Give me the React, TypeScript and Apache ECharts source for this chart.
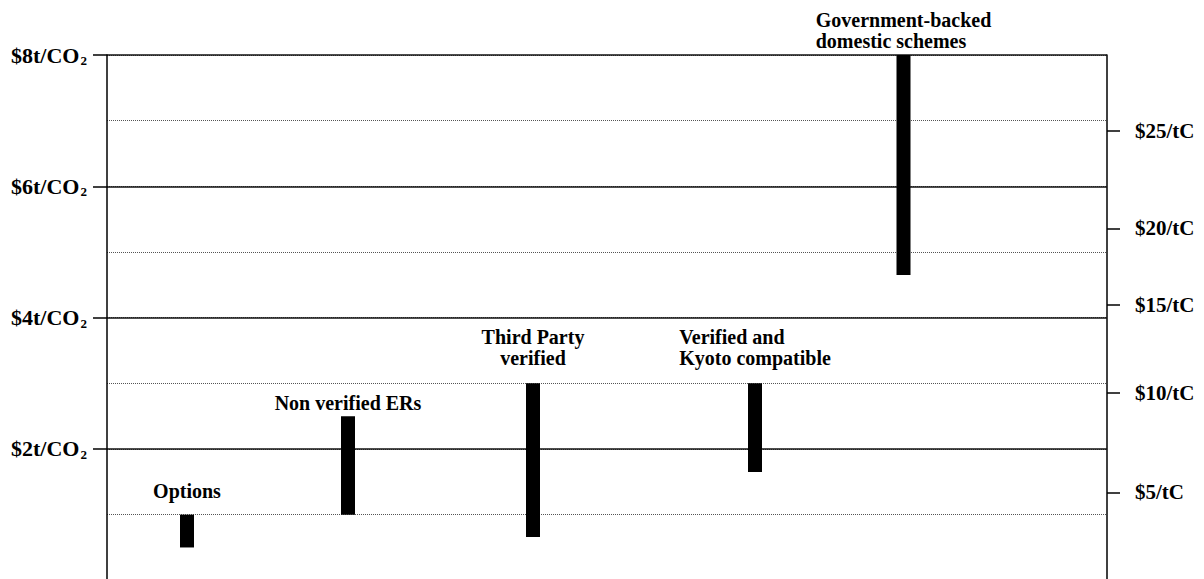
import React, { useEffect, useRef } from "react";
import * as echarts from "echarts";

// ---- data ----
const categories = [
  "Options",
  "Non verified ERs",
  "Third Party\nverified",
  "Verified and\nKyoto compatible",
  "Government-backed\ndomestic schemes",
];
// price range in $/tCO2
const lowValues = [0.5, 1.0, 0.66, 1.65, 4.65];
const highValues = [1.0, 2.5, 3.0, 3.0, 8.0];
// horizontal placement of each range (0-100 scale)
const xPositions = [8.0, 24.1, 42.6, 64.8, 79.65];

// right axis ($/tC) tick labels and where they sit on the $/tCO2 scale
const rightTickLabels = ["$5/tC", "$10/tC", "$15/tC", "$20/tC", "$25/tC"];
const rightTickValues = [1.34, 2.85, 4.2, 5.36, 6.84];

// ---- layout constants ----
const labelAlign = ["center", "center", "center", "left", "left"];
const labelGap = [24, 13, 25, 25, 14]; // bar top to centre of last label line
const LABEL_FONT_SIZE = 20;
const LABEL_LINE_HEIGHT = 21;
const FONT = '"Liberation Serif", "Times New Roman", serif';

function measureWidest(text: string): number {
  const c = document.createElement("canvas");
  const ctx = c.getContext("2d");
  if (!ctx) return 0;
  ctx.font = `bold ${LABEL_FONT_SIZE}px ${FONT}`;
  return Math.max(...text.split("\n").map((l) => ctx.measureText(l).width));
}

export default function App() {
  const ref = useRef<HTMLDivElement>(null);

  useEffect(() => {
    if (!ref.current) return;
    const chart = echarts.init(ref.current, undefined, { renderer: "svg" });

    const data = categories.map((name, i) => ({
      name,
      value: [xPositions[i], lowValues[i], highValues[i], i],
    }));

    const option: any = {
      animation: false,
      backgroundColor: "#fff",
      grid: { left: 107, right: 97, top: 55, bottom: 19.7, containLabel: false },
      xAxis: {
        type: "value",
        min: 0,
        max: 100,
        show: false,
      },
      yAxis: [
        {
          type: "value",
          position: "left",
          min: 0,
          max: 8,
          interval: 2,
          axisLine: { show: true, lineStyle: { color: "#000", width: 1.5 } },
          axisTick: {
            show: true,
            length: 14,
            lineStyle: { color: "#000", width: 1.5 },
          },
          splitLine: { show: true, lineStyle: { color: "#111", width: 1.5, type: "solid" } },
          axisLabel: {
            margin: 20,
            formatter: (v: number) => (v === 0 ? "" : `{m|$${v}t/CO}{s|2}`),
            rich: {
              m: {
                fontFamily: FONT,
                fontWeight: "bold",
                fontSize: 22,
                lineHeight: 24,
                color: "#000",
              },
              s: {
                fontFamily: FONT,
                fontWeight: "bold",
                fontSize: 13,
                lineHeight: 13,
                color: "#000",
                verticalAlign: "bottom",
                padding: [0, 0, 0, 1],
              },
            },
          },
          z: 3,
        },
        {
          type: "value",
          position: "right",
          min: 0,
          max: 8,
          axisLine: { show: true, lineStyle: { color: "#000", width: 1.5 } },
          axisTick: {
            show: true,
            length: 13,
            customValues: rightTickValues,
            lineStyle: { color: "#000", width: 1.5 },
          },
          splitLine: { show: false },
          axisLabel: {
            margin: 28,
            customValues: rightTickValues,
            fontFamily: FONT,
            fontWeight: "bold",
            fontSize: 21,
            color: "#000",
            formatter: (v: number) => {
              let best = 0;
              rightTickValues.forEach((t, i) => {
                if (Math.abs(t - v) < Math.abs(rightTickValues[best] - v)) best = i;
              });
              return rightTickLabels[best];
            },
          },
        },
        {
          type: "value",
          position: "left",
          min: 0,
          max: 8,
          interval: 1,
          axisLine: { show: false },
          axisTick: { show: false },
          axisLabel: { show: false },
          splitLine: {
            show: true,
            lineStyle: { color: "#555", width: 1, type: "dotted" },
          },
          z: 1,
        },
      ],
      series: [
        {
          type: "custom",
          xAxisIndex: 0,
          yAxisIndex: 0,
          clip: false,
          z: 10,
          data,
          renderItem: (params: any, api: any) => {
            const x = api.value(0);
            const lo = api.value(1);
            const hi = api.value(2);
            const idx = params.dataIndex;
            const top = api.coord([x, hi]);
            const bot = api.coord([x, lo]);
            const w = 14;
            const text = categories[idx];
            const align = labelAlign[idx];
            let tx = top[0];
            if (align === "left") tx = top[0] - measureWidest(text) / 2;
            const ty = top[1] - labelGap[idx] + LABEL_LINE_HEIGHT / 2;
            return {
              type: "group",
              children: [
                {
                  type: "rect",
                  shape: { x: top[0] - w / 2, y: top[1], width: w, height: bot[1] - top[1] },
                  style: { fill: "#000" },
                },
                {
                  type: "text",
                  x: tx,
                  y: ty,
                  style: {
                    text,
                    fill: "#000",
                    fontFamily: FONT,
                    fontWeight: "bold",
                    fontSize: LABEL_FONT_SIZE,
                    lineHeight: LABEL_LINE_HEIGHT,
                    align,
                    verticalAlign: "bottom",
                  },
                },
              ],
            };
          },
        },
      ],
    };

    chart.setOption(option);
    return () => chart.dispose();
  }, []);

  return (
    <div
      ref={ref}
      style={{ position: "fixed", left: 0, top: 0, width: 1204, height: 600, background: "#fff" }}
    />
  );
}
